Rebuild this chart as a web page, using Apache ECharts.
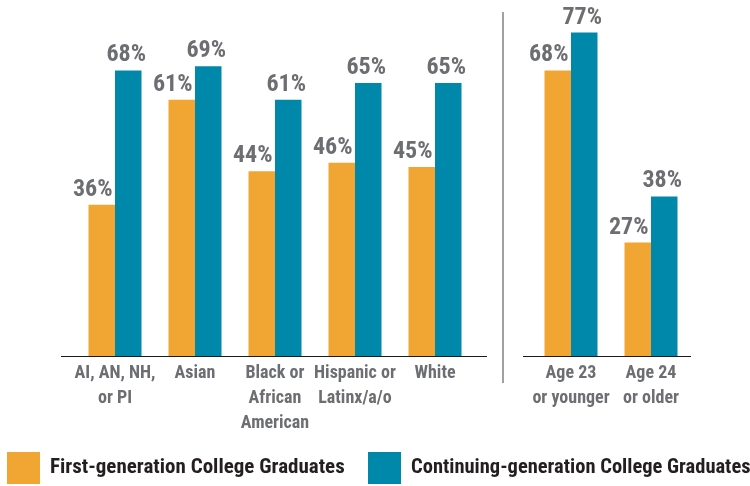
<!DOCTYPE html>
<html>
<head>
<meta charset="utf-8">
<script src="https://cdn.jsdelivr.net/npm/echarts@6/dist/echarts.min.js"></script>
<style>html,body{margin:0;padding:0;background:#fff}#c{width:750px;height:486px}</style>
</head>
<body>
<div id="c"></div>
<script>
var categoriesRace = ['AI, AN, NH,\nor PI', 'Asian', 'Black or\nAfrican\nAmerican', 'Hispanic or\nLatinx/a/o', 'White'];
var firstGenRace = [36, 61, 44, 46, 45];
var contGenRace = [68, 69, 61, 65, 65];
var categoriesAge = ['Age 23\nor younger', 'Age 24\nor older'];
var firstGenAge = [68, 27];
var contGenAge = [77, 38];
var seriesNames = ['First-generation College Graduates', 'Continuing-generation College Graduates'];

var ORANGE = '#f1a532', TEAL = '#0088ab', GRAY = '#6d6e71';
var FONT = "'Roboto Condensed', 'DejaVu Sans Condensed', sans-serif";

function lbl(offX) {
  return {
    show: true, position: 'top', distance: 3, offset: [offX, 0],
    formatter: '{c}%', fontFamily: FONT, fontWeight: 'bold', fontSize: 24, color: GRAY
  };
}
function xAx(idx, data) {
  return {
    type: 'category', gridIndex: idx, data: data,
    axisLine: { show: false }, axisTick: { show: false },
    axisLabel: { interval: 0, margin: 5, lineHeight: 25, fontFamily: FONT, fontWeight: 'bold', fontSize: 18, color: GRAY }
  };
}
function yAx(idx) {
  return { type: 'value', gridIndex: idx, min: 0, max: 80, show: false, splitLine: { show: false } };
}
function leg(name, left, fs) {
  return {
    left: left, top: 452, padding: 0, itemWidth: 33, itemHeight: 32, icon: 'rect',
    data: [name],
    textStyle: { fontFamily: FONT, fontWeight: 'bold', fontSize: fs, color: '#231f20', padding: [9, 0, 0, 5] }
  };
}

var chart = echarts.init(document.getElementById('c'), null, { renderer: 'canvas' });
chart.setOption({
  animation: false,
  grid: [
    { left: 75, width: 400, top: 20, height: 336 },
    { left: 531, width: 160, top: 20, height: 336 }
  ],
  xAxis: [xAx(0, categoriesRace), xAx(1, categoriesAge)],
  yAxis: [yAx(0), yAx(1)],
  legend: [leg(seriesNames[0], 7, 21), leg(seriesNames[1], 368, 20.5)],
  graphic: [
    { type: 'line', shape: { x1: 61, y1: 356.5, x2: 487, y2: 356.5 }, style: { stroke: '#1a1a1a', lineWidth: 1 }, z: 10 },
    { type: 'line', shape: { x1: 523, y1: 356.5, x2: 691, y2: 356.5 }, style: { stroke: '#1a1a1a', lineWidth: 1 }, z: 10 },
    { type: 'line', shape: { x1: 503, y1: 12, x2: 503, y2: 383 }, style: { stroke: '#6d6e71', lineWidth: 1.3 }, z: 10 }
  ],
  series: [
    { name: seriesNames[0], type: 'bar', xAxisIndex: 0, yAxisIndex: 0, data: firstGenRace, barWidth: 26.5, barGap: '0%', itemStyle: { color: ORANGE }, label: lbl(-9) },
    { name: seriesNames[1], type: 'bar', xAxisIndex: 0, yAxisIndex: 0, data: contGenRace, barWidth: 26.5, barGap: '0%', itemStyle: { color: TEAL }, label: lbl(-2) },
    { name: seriesNames[0], type: 'bar', xAxisIndex: 1, yAxisIndex: 1, data: firstGenAge, barWidth: 26.5, barGap: '0%', itemStyle: { color: ORANGE }, label: lbl(-9) },
    { name: seriesNames[1], type: 'bar', xAxisIndex: 1, yAxisIndex: 1, data: contGenAge, barWidth: 26.5, barGap: '0%', itemStyle: { color: TEAL }, label: lbl(-2) }
  ]
});
</script>
</body>
</html>
